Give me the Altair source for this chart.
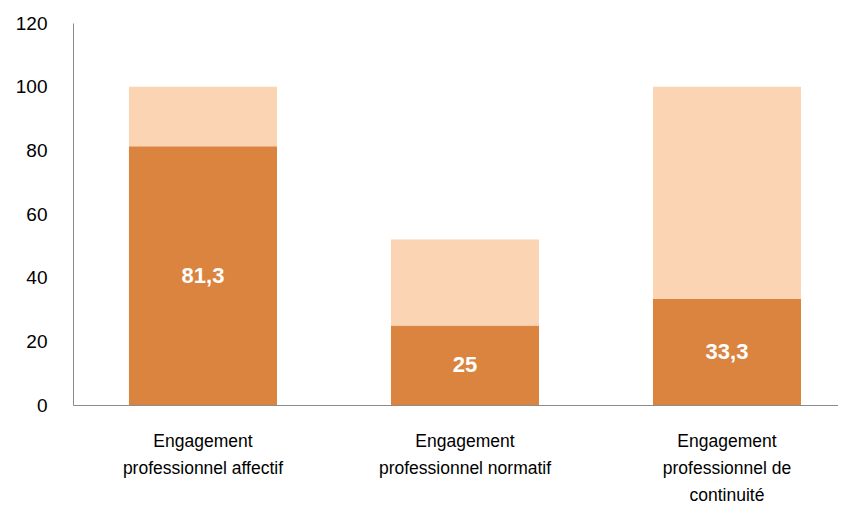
import altair as alt
import pandas as pd

categories = [
    "Engagement professionnel affectif",
    "Engagement professionnel normatif",
    "Engagement professionnel de continuité",
]
label_lines = [
    ["Engagement", "professionnel affectif"],
    ["Engagement", "professionnel normatif"],
    ["Engagement", "professionnel de", "continuité"],
]
dark_values = [81.3, 25.0, 33.3]
totals = [100.0, 52.0, 100.0]
light_values = [round(t - d, 1) for t, d in zip(totals, dark_values)]

rows = []
for c, d, l in zip(categories, dark_values, light_values):
    rows.append({"cat": c, "series": "dark", "value": d, "ord": 0,
                 "label": (f"{d:g}").replace(".", ",")})
    rows.append({"cat": c, "series": "light", "value": l, "ord": 1, "label": ""})
df = pd.DataFrame(rows)

expr = "".join(
    f"datum.value == '{c}' ? {lines!r} : " for c, lines in zip(categories, label_lines)
) + "datum.value"

FONT = "Liberation Sans, sans-serif"

x = alt.X(
    "cat:N",
    sort=categories,
    title=None,
    scale=alt.Scale(paddingInner=0.435, paddingOuter=0.1774, align=0.602),
    axis=alt.Axis(
        labelAngle=0, labelExpr=expr, ticks=False, domainColor="#8c8c8c",
        labelFont=FONT, labelFontSize=17.5, labelColor="#000000",
        labelPadding=27, labelLineHeight=27, labelBaseline="top",
        labelLimit=300,
    ),
)

bars = alt.Chart(df).mark_bar().encode(
    x=x,
    y=alt.Y(
        "value:Q",
        stack="zero",
        title=None,
        scale=alt.Scale(domain=[0, 120], nice=False),
        axis=alt.Axis(
            values=[0, 20, 40, 60, 80, 100, 120], grid=False, ticks=False,
            domainColor="#8c8c8c", labelFont=FONT, labelFontSize=19,
            labelColor="#000000", labelPadding=26,
        ),
    ),
    color=alt.Color(
        "series:N",
        scale=alt.Scale(domain=["dark", "light"], range=["#DA843F", "#FBD4B4"]),
        legend=None,
    ),
    order=alt.Order("ord:Q"),
)

dark_df = df[df["series"] == "dark"].copy()
dark_df["mid"] = dark_df["value"] / 2

texts = alt.Chart(dark_df).mark_text(
    color="white", fontWeight="bold", fontSize=22, font=FONT, baseline="middle"
).encode(
    x=alt.X("cat:N", sort=categories),
    y=alt.Y("mid:Q"),
    text="label:N",
)

chart = (
    alt.layer(bars, texts)
    .properties(
        width=765,
        height=382,
        autosize=alt.AutoSizeParams(type="none"),
        padding={"left": 65, "top": 15, "right": 0, "bottom": 99},
    )
    .configure_view(stroke=None)
)

chart.save("out.html", embed_options={"renderer": "svg", "actions": False})
